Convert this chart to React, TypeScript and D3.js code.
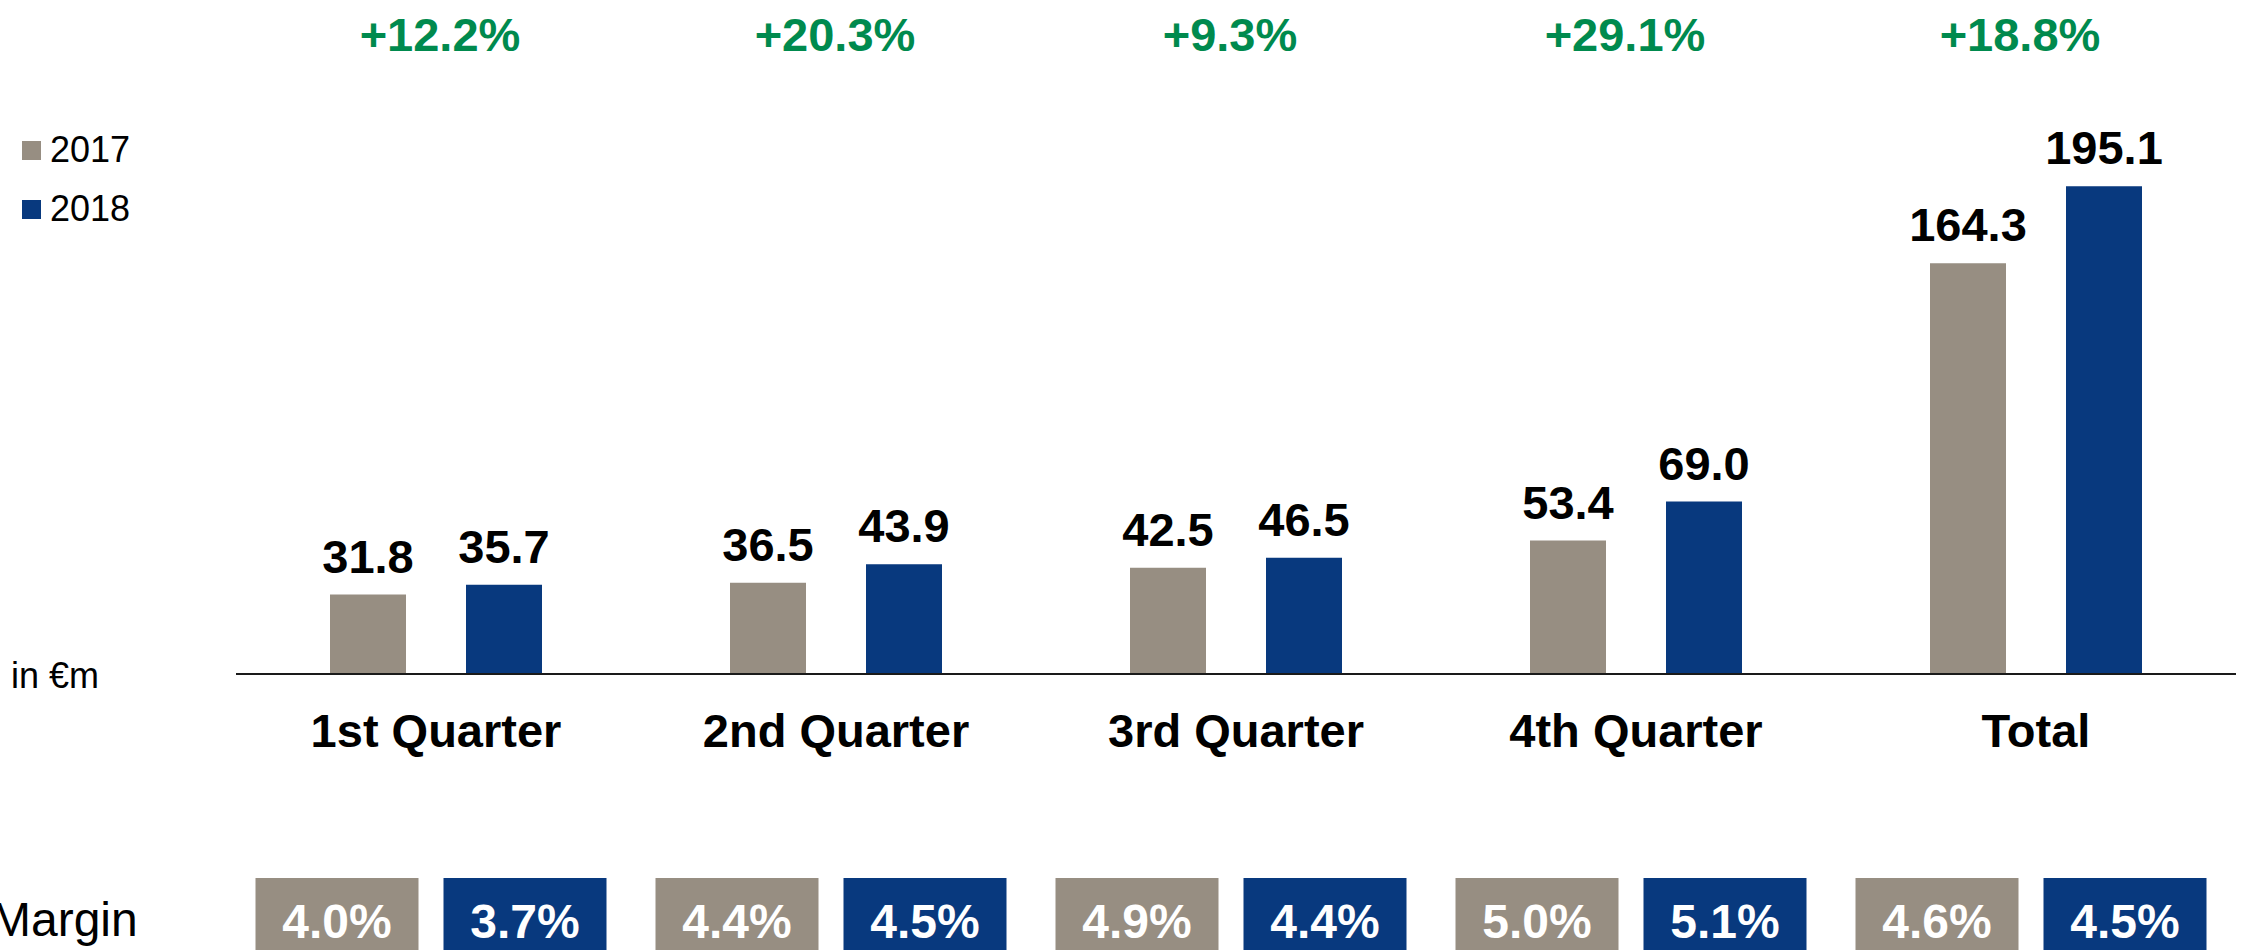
import React from "react";
import * as d3 from "d3";

const categories = ["1st Quarter", "2nd Quarter", "3rd Quarter", "4th Quarter", "Total"];
const series = ["2017", "2018"];
const values2017 = [31.8, 36.5, 42.5, 53.4, 164.3];
const values2018 = [35.7, 43.9, 46.5, 69.0, 195.1];
const growthLabels = ["+12.2%", "+20.3%", "+9.3%", "+29.1%", "+18.8%"];
const margin2017 = ["4.0%", "4.4%", "4.9%", "5.0%", "4.6%"];
const margin2018 = ["3.7%", "4.5%", "4.4%", "5.1%", "4.5%"];

const W = 2242;
const H = 950;
const FONT = "Arial, 'Liberation Sans', Helvetica, sans-serif";
const COLORS: Record<string, string> = { "2017": "#978E82", "2018": "#08397E" };
const GREEN = "#008A4E";

export default function App() {
  const x = d3.scaleBand<string>().domain(categories).range([236, 2236]).paddingInner(0).paddingOuter(0);
  const inner = d3.scaleBand<string>().domain(series).range([94, 306]).paddingInner(60 / 136);
  const marginInner = d3.scaleBand<string>().domain(series).range([19.5, 370.5]).paddingInner(25 / 188);
  const growthX = d3.scalePoint<string>().domain(categories).range([440, 2020]);
  const y = d3.scaleLinear().domain([0, 200]).range([674, 174]);

  const valuesBySeries: Record<string, number[]> = { "2017": values2017, "2018": values2018 };
  const marginsBySeries: Record<string, string[]> = { "2017": margin2017, "2018": margin2018 };

  return (
    <svg
      width={W}
      height={H}
      style={{ position: "absolute", left: 0, top: 0, background: "#fff" }}
      fontFamily={FONT}
    >
      {/* growth labels */}
      {categories.map((c, i) => (
        <text key={"g" + c} x={growthX(c)} y={51} textAnchor="middle" fontSize={47} fontWeight="bold" fill={GREEN}>
          {growthLabels[i]}
        </text>
      ))}

      {/* legend */}
      {series.map((s, i) => (
        <g key={"leg" + s} transform={`translate(22, ${141 + i * 59})`}>
          <rect x={0} y={0} width={19} height={19} fill={COLORS[s]} />
          <text x={28} y={21} fontSize={36} fill="#000">
            {s}
          </text>
        </g>
      ))}

      {/* bars and value labels */}
      {categories.map((c, i) => (
        <g key={"grp" + c} transform={`translate(${x(c)},0)`}>
          {series.map((s) => {
            const v = valuesBySeries[s][i];
            const bx = inner(s)!;
            const bw = inner.bandwidth();
            return (
              <g key={s}>
                <rect x={bx} y={y(v)} width={bw} height={y(0) - y(v)} fill={COLORS[s]} />
                <text x={bx + bw / 2} y={y(v) - 22} textAnchor="middle" fontSize={47} fontWeight="bold" fill="#000">
                  {v.toFixed(1)}
                </text>
              </g>
            );
          })}
        </g>
      ))}

      {/* axis line */}
      <line x1={x.range()[0]} x2={x.range()[1]} y1={y(0)} y2={y(0)} stroke="#1a1a1a" strokeWidth={2} />

      {/* unit label */}
      <text x={11} y={688} fontSize={36} fill="#000">
        in €m
      </text>

      {/* category labels */}
      {categories.map((c) => (
        <text key={"cat" + c} x={x(c)! + x.bandwidth() / 2} y={747} textAnchor="middle" fontSize={47} fontWeight="bold" fill="#000">
          {c}
        </text>
      ))}

      {/* margin row */}
      <text x={-9} y={936} fontSize={48} fill="#000">
        Margin
      </text>
      {categories.map((c, i) => (
        <g key={"m" + c} transform={`translate(${x(c)},0)`}>
          {series.map((s) => {
            const mx = marginInner(s)!;
            const mw = marginInner.bandwidth();
            return (
              <g key={s}>
                <rect x={mx} y={878} width={mw} height={72} fill={COLORS[s]} />
                <text x={mx + mw / 2} y={938} textAnchor="middle" fontSize={48} fontWeight="bold" fill="#fff">
                  {marginsBySeries[s][i]}
                </text>
              </g>
            );
          })}
        </g>
      ))}
    </svg>
  );
}
